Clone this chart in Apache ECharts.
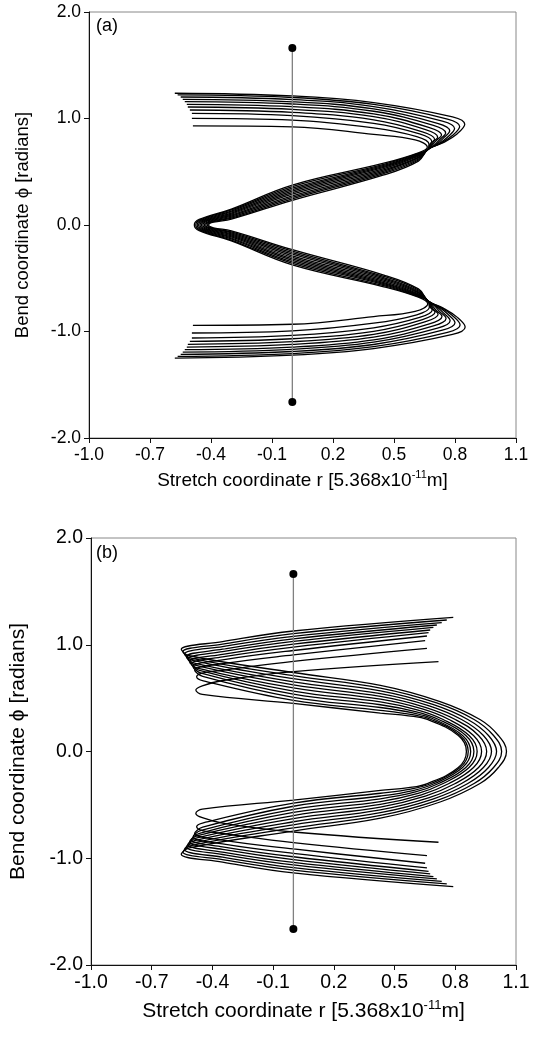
<!DOCTYPE html>
<html>
<head>
<meta charset="utf-8">
<script src="https://cdn.jsdelivr.net/npm/echarts@6/dist/echarts.min.js"></script>
<style>
  html, body { margin: 0; padding: 0; background: #fff; }
  #chart { width: 536px; height: 1044px; }
</style>
</head>
<body>
<div id="chart"></div>
<script>
// Axis ticks
const rTicks = [-1.0, -0.7, -0.4, -0.1, 0.2, 0.5, 0.8, 1.1];
const phiTicks = [-2.0, -1.0, 0.0, 1.0, 2.0];

// Vertical reference line at r = 0 with end markers
const refLine = [[0, 1.663], [0, -1.663]];

// Panel (a): trajectories [r, phi]
const a0 = [[-0.578,1.237],[0,1.212],[0.4,1.150],[0.788,1.015],[0.848,0.945],[0.810,0.855],[0.742,0.773],[0.668,0.711],[0.62,0.600],[0.45,0.470],[0,0.232],[-0.3,0.055],[-0.388,0.026],[-0.412,0],
  [-0.388,-0.026],[-0.3,-0.055],[0,-0.232],[0.45,-0.470],[0.62,-0.600],[0.668,-0.713],[0.742,-0.780],[0.810,-0.865],[0.850,-0.958],[0.788,-1.028],[0.4,-1.160],[0,-1.222],[-0.578,-1.250]];
const a1 = [[-0.564,1.221],[0,1.197],[0.4,1.132],[0.763,0.995],[0.823,0.925],[0.787,0.840],[0.731,0.768],[0.668,0.711],[0.62,0.610],[0.45,0.483],[0,0.246],[-0.3,0.065],[-0.395,0.029],[-0.419,0],
  [-0.395,-0.029],[-0.3,-0.065],[0,-0.246],[0.45,-0.483],[0.62,-0.610],[0.668,-0.713],[0.731,-0.775],[0.787,-0.850],[0.825,-0.938],[0.763,-1.008],[0.4,-1.142],[0,-1.207],[-0.564,-1.234]];
const a2 = [[-0.549,1.202],[0,1.178],[0.4,1.112],[0.738,0.975],[0.798,0.905],[0.764,0.826],[0.720,0.762],[0.668,0.711],[0.62,0.620],[0.45,0.495],[0,0.260],[-0.3,0.074],[-0.402,0.032],[-0.426,0],
  [-0.402,-0.032],[-0.3,-0.074],[0,-0.260],[0.45,-0.495],[0.62,-0.620],[0.668,-0.713],[0.720,-0.769],[0.764,-0.836],[0.800,-0.918],[0.738,-0.988],[0.4,-1.122],[0,-1.188],[-0.549,-1.215]];
const a3 = [[-0.539,1.180],[0,1.157],[0.4,1.090],[0.714,0.955],[0.774,0.885],[0.742,0.813],[0.709,0.757],[0.668,0.711],[0.62,0.630],[0.45,0.507],[0,0.274],[-0.3,0.084],[-0.409,0.035],[-0.433,0],
  [-0.409,-0.035],[-0.3,-0.084],[0,-0.274],[0.45,-0.507],[0.62,-0.630],[0.668,-0.713],[0.709,-0.764],[0.742,-0.823],[0.776,-0.898],[0.714,-0.968],[0.4,-1.100],[0,-1.167],[-0.539,-1.193]];
const a4 = [[-0.529,1.158],[0,1.136],[0.4,1.068],[0.694,0.935],[0.754,0.865],[0.724,0.801],[0.699,0.752],[0.668,0.711],[0.62,0.638],[0.45,0.518],[0,0.289],[-0.3,0.093],[-0.416,0.038],[-0.440,0],
  [-0.416,-0.038],[-0.3,-0.093],[0,-0.289],[0.45,-0.518],[0.62,-0.638],[0.668,-0.713],[0.699,-0.759],[0.724,-0.811],[0.756,-0.878],[0.694,-0.948],[0.4,-1.078],[0,-1.146],[-0.529,-1.171]];
const a5 = [[-0.519,1.133],[0,1.111],[0.4,1.043],[0.674,0.915],[0.734,0.845],[0.707,0.790],[0.668,0.711],[0.62,0.646],[0.45,0.529],[0,0.303],[-0.3,0.103],[-0.423,0.041],[-0.447,0],
  [-0.423,-0.041],[-0.3,-0.103],[0,-0.303],[0.45,-0.529],[0.62,-0.646],[0.668,-0.713],[0.707,-0.800],[0.736,-0.858],[0.674,-0.928],[0.4,-1.053],[0,-1.121],[-0.519,-1.146]];
const a6 = [[-0.514,1.108],[0,1.086],[0.4,1.017],[0.655,0.895],[0.715,0.825],[0.693,0.779],[0.668,0.711],[0.62,0.653],[0.45,0.540],[0,0.318],[-0.3,0.112],[-0.430,0.044],[-0.454,0],
  [-0.430,-0.044],[-0.3,-0.112],[0,-0.318],[0.45,-0.540],[0.62,-0.653],[0.668,-0.713],[0.693,-0.789],[0.717,-0.838],[0.655,-0.908],[0.4,-1.027],[0,-1.096],[-0.514,-1.121]];
const a7 = [[-0.504,1.080],[0,1.058],[0.4,0.988],[0.640,0.875],[0.700,0.805],[0.683,0.767],[0.668,0.711],[0.62,0.660],[0.45,0.550],[0,0.332],[-0.3,0.122],[-0.437,0.046],[-0.461,0],
  [-0.437,-0.046],[-0.3,-0.122],[0,-0.332],[0.45,-0.550],[0.62,-0.660],[0.668,-0.713],[0.683,-0.777],[0.702,-0.818],[0.640,-0.888],[0.4,-0.998],[0,-1.068],[-0.504,-1.093]];
const a8 = [[-0.494,1.048],[0,1.027],[0.4,0.955],[0.626,0.855],[0.686,0.785],[0.676,0.755],[0.668,0.711],[0.62,0.666],[0.45,0.560],[0,0.346],[-0.3,0.131],[-0.444,0.048],[-0.468,0],
  [-0.444,-0.048],[-0.3,-0.131],[0,-0.346],[0.45,-0.560],[0.62,-0.666],[0.668,-0.713],[0.676,-0.765],[0.688,-0.798],[0.626,-0.868],[0.4,-0.965],[0,-1.037],[-0.494,-1.061]];
const a9 = [[-0.494,1.001],[0,0.985],[0.4,0.912],[0.612,0.830],[0.672,0.760],[0.668,0.711],[0.62,0.672],[0.45,0.570],[0,0.360],[-0.3,0.141],[-0.451,0.050],[-0.475,0],
  [-0.451,-0.050],[-0.3,-0.141],[0,-0.360],[0.45,-0.570],[0.62,-0.672],[0.668,-0.713],[0.674,-0.773],[0.612,-0.843],[0.4,-0.922],[0,-0.995],[-0.494,-1.014]];
const a10 = [[-0.489,0.930],[0,0.922],[0.4,0.850],[0.604,0.800],[0.664,0.730],[0.62,0.678],[0.45,0.580],[0,0.375],[-0.3,0.150],[-0.458,0.053],[-0.482,0],
  [-0.458,-0.053],[-0.3,-0.150],[0,-0.375],[0.45,-0.580],[0.62,-0.678],[0.666,-0.740],[0.604,-0.810],[0.4,-0.860],[0,-0.932],[-0.489,-0.942]];
const panelA = [a0, a1, a2, a3, a4, a5, a6, a7, a8, a9, a10];

// Panel (b): trajectories [r, phi]
const b0 = [[0.790,1.257],[0,1.129],[-0.35,1.029],[-0.554,0.957],[-0.514,0.897],[0,0.740],[0.43,0.620],[0.725,0.468],[0.922,0.30],[1.013,0.15],[1.053,0],
  [1.013,-0.15],[0.922,-0.30],[0.725,-0.473],[0.43,-0.625],[0,-0.745],[-0.514,-0.903],[-0.554,-0.963],[-0.35,-1.036],[0,-1.137],[0.790,-1.266]];
const b1 = [[0.758,1.232],[0,1.104],[-0.35,1.006],[-0.546,0.935],[-0.506,0.875],[0,0.711],[0.43,0.594],[0.708,0.455],[0.893,0.30],[0.989,0.15],[1.029,0],
  [0.989,-0.15],[0.893,-0.30],[0.708,-0.460],[0.43,-0.599],[0,-0.716],[-0.506,-0.881],[-0.546,-0.941],[-0.35,-1.013],[0,-1.112],[0.758,-1.241]];
const b2 = [[0.733,1.207],[0,1.079],[-0.35,0.983],[-0.538,0.913],[-0.498,0.853],[0,0.682],[0.43,0.568],[0.689,0.441],[0.862,0.30],[0.964,0.15],[1.004,0],
  [0.964,-0.15],[0.862,-0.30],[0.689,-0.446],[0.43,-0.573],[0,-0.687],[-0.498,-0.859],[-0.538,-0.919],[-0.35,-0.990],[0,-1.087],[0.733,-1.216]];
const b3 = [[0.709,1.185],[0,1.055],[-0.35,0.958],[-0.529,0.888],[-0.489,0.828],[0,0.653],[0.43,0.542],[0.671,0.428],[0.831,0.30],[0.939,0.15],[0.979,0],
  [0.939,-0.15],[0.831,-0.30],[0.671,-0.433],[0.43,-0.547],[0,-0.658],[-0.489,-0.834],[-0.529,-0.894],[-0.35,-0.965],[0,-1.063],[0.709,-1.194]];
const b4 = [[0.692,1.163],[0,1.031],[-0.35,0.935],[-0.521,0.866],[-0.481,0.806],[0,0.624],[0.43,0.516],[0.652,0.414],[0.800,0.30],[0.915,0.15],[0.955,0],
  [0.915,-0.15],[0.800,-0.30],[0.652,-0.419],[0.43,-0.521],[0,-0.629],[-0.481,-0.812],[-0.521,-0.872],[-0.35,-0.942],[0,-1.039],[0.692,-1.172]];
const b5 = [[0.676,1.138],[0,1.005],[-0.35,0.910],[-0.513,0.841],[-0.473,0.781],[0,0.595],[0.43,0.490],[0.633,0.401],[0.769,0.30],[0.890,0.15],[0.930,0],
  [0.890,-0.15],[0.769,-0.30],[0.633,-0.406],[0.43,-0.495],[0,-0.600],[-0.473,-0.787],[-0.513,-0.847],[-0.35,-0.917],[0,-1.013],[0.676,-1.147]];
const b6 = [[0.668,1.113],[0,0.978],[-0.35,0.886],[-0.504,0.820],[-0.464,0.760],[0,0.566],[0.43,0.464],[0.616,0.388],[0.740,0.30],[0.868,0.15],[0.908,0],
  [0.868,-0.15],[0.740,-0.30],[0.616,-0.393],[0.43,-0.469],[0,-0.571],[-0.464,-0.766],[-0.504,-0.826],[-0.35,-0.893],[0,-0.986],[0.668,-1.122]];
const b7 = [[0.660,1.082],[0,0.946],[-0.35,0.858],[-0.496,0.794],[-0.456,0.734],[0,0.537],[0.43,0.438],[0.603,0.374],[0.718,0.30],[0.852,0.15],[0.892,0],
  [0.852,-0.15],[0.718,-0.30],[0.603,-0.379],[0.43,-0.443],[0,-0.542],[-0.456,-0.740],[-0.496,-0.800],[-0.35,-0.865],[0,-0.954],[0.660,-1.091]];
const b8 = [[0.651,1.038],[0,0.905],[-0.35,0.823],[-0.488,0.763],[-0.448,0.703],[0,0.508],[0.43,0.412],[0.591,0.361],[0.698,0.30],[0.836,0.15],[0.876,0],
  [0.836,-0.15],[0.698,-0.30],[0.591,-0.366],[0.43,-0.417],[0,-0.513],[-0.448,-0.709],[-0.488,-0.769],[-0.35,-0.830],[0,-0.913],[0.651,-1.047]];
const b9 = [[0.660,0.967],[0,0.845],[-0.35,0.761],[-0.45,0.735],[-0.478,0.700],[-0.445,0.662],[0,0.479],[0.43,0.386],[0.580,0.347],[0.680,0.30],[0.824,0.15],[0.864,0],
  [0.824,-0.15],[0.680,-0.30],[0.580,-0.352],[0.43,-0.391],[0,-0.484],[-0.445,-0.668],[-0.478,-0.706],[-0.45,-0.741],[-0.35,-0.768],[0,-0.853],[0.660,-0.976]];
const b10 = [[0.717,0.841],[0,0.748],[-0.35,0.665],[-0.45,0.615],[-0.482,0.575],[-0.45,0.535],[0,0.450],[0.43,0.360],[0.569,0.334],[0.662,0.30],[0.815,0.15],[0.855,0],
  [0.815,-0.15],[0.662,-0.30],[0.569,-0.339],[0.43,-0.365],[0,-0.455],[-0.45,-0.540],[-0.482,-0.580],[-0.45,-0.620],[-0.35,-0.670],[0,-0.754],[0.717,-0.850]];
const panelB = [b0, b1, b2, b3, b4, b5, b6, b7, b8, b9, b10];

const FONT = '"Liberation Sans", Arial, Helvetica, sans-serif';

function xAxisFor(gridIndex, fs, nfs, gap) {
  return {
    type: 'value', gridIndex, min: -1.0, max: 1.1,
    axisLine: { show: true, onZero: false, lineStyle: { color: '#111', width: 1 } },
    axisTick: { show: true, inside: false, length: 5, customValues: rTicks, lineStyle: { color: '#111' } },
    axisLabel: { customValues: rTicks, formatter: v => v.toFixed(1), color: '#000', fontSize: fs, fontFamily: FONT, margin: 8 },
    splitLine: { show: false },
    name: '{t|Stretch coordinate r [5.368x10}{s|-11}{t|m]}',
    nameLocation: 'middle', nameGap: gap,
    nameTextStyle: {
      rich: {
        t: { fontSize: nfs, fontFamily: FONT, color: '#000', lineHeight: nfs + 4 },
        s: { fontSize: Math.round(nfs * 0.6), fontFamily: FONT, color: '#000', verticalAlign: 'top', lineHeight: 10 }
      }
    }
  };
}

function yAxisFor(gridIndex, fs, nfs, gap) {
  return {
    type: 'value', gridIndex, min: -2, max: 2, interval: 1,
    axisLine: { show: true, onZero: false, lineStyle: { color: '#111', width: 1 } },
    axisTick: { show: true, inside: false, length: 5, lineStyle: { color: '#111' } },
    axisLabel: { formatter: v => v.toFixed(1), color: '#000', fontSize: fs, fontFamily: FONT, margin: 8 },
    splitLine: { show: false },
    name: 'Bend coordinate \u03D5 [radians]',
    nameLocation: 'middle', nameGap: gap, nameRotate: 90,
    nameTextStyle: { fontSize: nfs, fontFamily: FONT, color: '#000' }
  };
}

function curveSeries(data, idx) {
  return {
    type: 'line', xAxisIndex: idx, yAxisIndex: idx, data,
    smooth: 0.4, symbol: 'none', showSymbol: false, silent: true,
    lineStyle: { color: '#000', width: 1.3 }, z: 2
  };
}

function refSeries(idx) {
  return {
    type: 'line', xAxisIndex: idx, yAxisIndex: idx, data: refLine,
    symbol: 'circle', symbolSize: 8, showSymbol: true, silent: true,
    itemStyle: { color: '#000' },
    lineStyle: { color: '#808080', width: 1.3 }, z: 5
  };
}

const series = [];
panelA.forEach(c => series.push(curveSeries(c, 0)));
series.push(refSeries(0));
panelB.forEach(c => series.push(curveSeries(c, 1)));
series.push(refSeries(1));

const chart = echarts.init(document.getElementById('chart'), null, { renderer: 'canvas' });
chart.setOption({
  animation: false,
  backgroundColor: '#fff',
  grid: [
    { left: 89, right: 20, top: 12, height: 426, show: true, borderColor: '#888', borderWidth: 1 },
    { left: 89, right: 20, top: 538, height: 427, show: true, borderColor: '#888', borderWidth: 1 }
  ],
  xAxis: [xAxisFor(0, 17.5, 19, 31), xAxisFor(1, 19.5, 21, 34)],
  yAxis: [yAxisFor(0, 17.5, 18.5, 57), yAxisFor(1, 19.5, 21, 62)],
  graphic: [
    { type: 'text', left: 96, top: 17, style: { text: '(a)', fontSize: 18, fontFamily: FONT, fill: '#000' } },
    { type: 'text', left: 96, top: 544, style: { text: '(b)', fontSize: 18, fontFamily: FONT, fill: '#000' } }
  ],
  series
});
</script>
</body>
</html>
